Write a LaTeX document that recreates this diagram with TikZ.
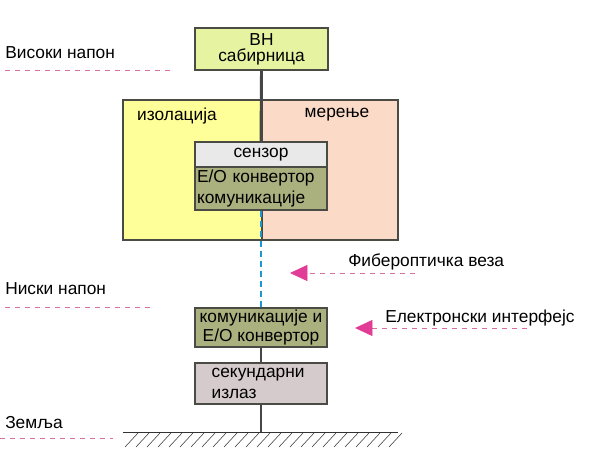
\documentclass[tikz,border=0pt]{standalone}
\usepackage{fontspec}
\setmainfont{Liberation Sans}
\usetikzlibrary{arrows.meta}

\definecolor{busfill}{RGB}{230,243,160}
\definecolor{isofill}{RGB}{255,255,153}
\definecolor{merfill}{RGB}{252,218,200}
\definecolor{senfill}{RGB}{233,233,233}
\definecolor{olive}{RGB}{170,176,126}
\definecolor{outfill}{RGB}{214,203,204}
\definecolor{edge}{RGB}{75,75,70}
\definecolor{wire}{RGB}{70,70,70}
\definecolor{fiber}{RGB}{30,150,210}
\definecolor{lead}{RGB}{215,110,160}
\definecolor{tip}{RGB}{225,60,150}

\tikzset{
  blk/.style={draw=edge,rectangle,line width=0.9pt,inner sep=1pt,
              font=\fontsize{13}{15.5}\selectfont},
  panel/.style={draw=edge,rectangle,line width=0.9pt},
  lbl/.style={anchor=west,inner sep=0pt,font=\fontsize{13}{15}\selectfont},
  leader/.style={draw=lead,line width=0.5pt,dash pattern=on 3.75pt off 3.75pt}}

\begin{document}
\begin{tikzpicture}
[x=0.75pt,y=-0.75pt,
 pointer/.style={leader,-{Triangle[length=13pt,width=12pt,fill=tip,color=tip]}}]
\useasboundingbox (0,0) rectangle (593,460);

% panels
\node (iso) at (192.5,170) [panel,fill=isofill,minimum width=104.25pt,minimum height=105pt] {};
\node (mer) at (330,170) [panel,fill=merfill,minimum width=102pt,minimum height=105pt] {};
\node (isot) at (177,116) [font=\fontsize{13}{15}\selectfont] {изолација};
\node (mert) at (337,115) [font=\fontsize{13}{15}\selectfont] {мерење};

% blocks
\node (bus) at (261.5,49) [blk,fill=busfill,minimum width=99.75pt,minimum height=31.5pt,
  align=center,font=\fontsize{13}{12}\selectfont] {ВН\\сабирница};
\node (sen) at (261,154.5) [blk,fill=senfill,minimum width=99pt,minimum height=18.75pt] {сензор};
\node (eo) at (261,188.5) [blk,fill=olive,minimum width=99pt,minimum height=32.25pt,
  text width=96pt,align=left] {Е/О конвертор\\комуникације};
\node (comm) at (261,327.5) [blk,fill=olive,minimum width=99pt,minimum height=29.25pt,
  align=center,font=\fontsize{13}{14}\selectfont] {комуникације и\\Е/О конвертор};
\node (out) at (261,383.5) [blk,fill=outfill,minimum width=99pt,minimum height=30.75pt,
  text width=74pt,align=left] {секундарни\\излаз};

% wires
\draw [wire,line width=2.2pt] (bus.south) -- (sen.north);
\draw [fiber,line width=2.2pt,dash pattern=on 5pt off 2.5pt] (eo.south) -- (comm.north);
\draw [wire,line width=2.2pt] (comm.south) -- (out.north);
\coordinate (gnd) at (261,432);
\draw [wire,line width=2.2pt] (out.south) -- (gnd);

% ground
\draw [black!80,line width=0.6pt] (123,432) -- (398,432);
\foreach \x in {125,136,...,392}
  \draw [black!80,line width=0.4pt] (\x,447) -- (\x+13,433);

% levels
\node (hv) at (5,53) [lbl] {Високи напон};
\node (lv) at (5,289) [lbl] {Ниски напон};
\node (earth) at (5,423) [lbl] {Земља};
\coordinate (hva) at (5,70);  \coordinate (hvb) at (175,70);
\coordinate (lva) at (5,307); \coordinate (lvb) at (155,307);
\coordinate (ea) at (0,438);  \coordinate (eb) at (113,438);
\draw [leader] (hva) -- (hvb);
\draw [leader] (lva) -- (lvb);
\draw [leader] (ea) -- (eb);

% pointers
\node (fibt) at (348,262) [lbl] {Фибероптичка веза};
\node (elt) at (385,318) [lbl] {Електронски интерфејс};
\coordinate (fiba) at (415,273); \coordinate (fibb) at (290,273);
\coordinate (ela) at (527,328);  \coordinate (elb) at (355,328);
\draw [pointer] (fiba) -- (fibb);
\draw [pointer] (ela) -- (elb);
\end{tikzpicture}
\end{document}
